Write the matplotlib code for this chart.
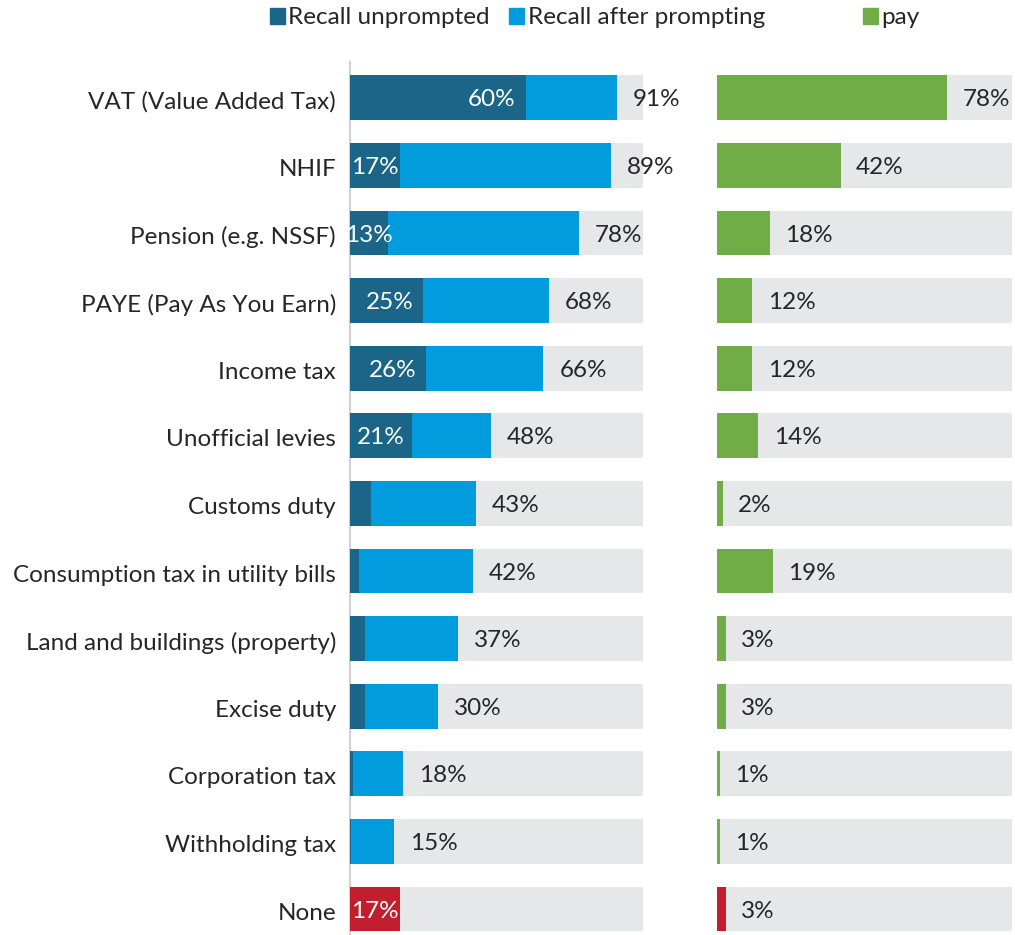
import numpy as np
import matplotlib.pyplot as plt
from matplotlib.patches import Patch

plt.rcParams['font.family'] = ['Lato', 'DejaVu Sans']

categories = ["VAT (Value Added Tax)", "NHIF", "Pension (e.g. NSSF)",
              "PAYE (Pay As You Earn)", "Income tax", "Unofficial levies",
              "Customs duty", "Consumption tax in utility bills",
              "Land and buildings (property)", "Excise duty",
              "Corporation tax", "Withholding tax", "None"]
unprompted = [60, 17, 13, 25, 26, 21, 7, 3, 5, 5, 1, 0.5, 17]
total = [91, 89, 78, 68, 66, 48, 43, 42, 37, 30, 18, 15, 17]
unprompted_labels = ["60%", "17%", "13%", "25%", "26%", "21%", "", "", "", "", "", "", "17%"]
total_labels = ["91%", "89%", "78%", "68%", "66%", "48%", "43%", "42%", "37%",
                "30%", "18%", "15%", ""]
pay = [78, 42, 18, 12, 12, 14, 2, 19, 3, 3, 1, 1, 3]

DARK = "#1B6688"
BLUE = "#009CDD"
GREEN = "#70AD47"
RED = "#C11F2D"
GREY = "#E6E7E9"
TEXT = "#262626"

W, H = 1015, 935
fig = plt.figure(figsize=(W / 100, H / 100), dpi=100)

top, bottom = 64, 935
ax1 = fig.add_axes([350 / W, 1 - bottom / H, 293 / W, (bottom - top) / H])
ax2 = fig.add_axes([717 / W, 1 - bottom / H, 295 / W, (bottom - top) / H])

y = np.arange(len(categories))
n = len(categories)
bh = 0.665
fs = 17.5

is_none = np.array([c == "None" for c in categories])

# left panel
ax1.barh(y, [100] * n, height=bh, color=GREY, zorder=1)
ax1.barh(y[~is_none], np.array(total)[~is_none], height=bh, color=BLUE, zorder=2)
ax1.barh(y[~is_none], np.array(unprompted)[~is_none], height=bh, color=DARK, zorder=3)
ax1.barh(y[is_none], np.array(unprompted)[is_none], height=bh, color=RED, zorder=3)

for i in range(n):
    if unprompted_labels[i]:
        v = unprompted[i]
        xc = max(v / 2, v - 11.6)
        ax1.text(xc, y[i] + 0.03, unprompted_labels[i], ha='center', va='center',
                 color='white', fontsize=fs, zorder=5)
    if total_labels[i]:
        ax1.annotate(total_labels[i], (total[i], y[i] + 0.03), xytext=(11.5, 0),
                     textcoords='offset points', ha='left', va='center',
                     color=TEXT, fontsize=fs, zorder=5, annotation_clip=False)

# right panel
ax2.barh(y, [100] * n, height=bh, color=GREY, zorder=1)
ax2.barh(y, pay, height=bh, color=[RED if c else GREEN for c in is_none], zorder=2)
for i in range(n):
    ax2.annotate("%d%%" % pay[i], (pay[i], y[i] + 0.03), xytext=(11, 0),
                 textcoords='offset points', ha='left', va='center',
                 color=TEXT, fontsize=fs, zorder=5)

span = (bottom - top) / 67.6
for ax in (ax1, ax2):
    ax.set_xlim(0, 100)
    ax.set_ylim(-0.5 + span, -0.5)
    ax.set_xticks([])
    for s in ax.spines.values():
        s.set_visible(False)

ax1.set_yticks(y + 0.03)
ax1.set_yticklabels(categories, fontsize=fs, color=TEXT)
ax1.tick_params(axis='y', length=0, pad=10)
ax1.spines['left'].set_visible(True)
ax1.spines['left'].set_color("#D0D0D0")
ax1.spines['left'].set_linewidth(1.5)
ax1.spines['left'].set_bounds(-0.5 - 0.03, -0.5 + span)
ax2.set_yticks([])

leg1 = fig.legend(handles=[Patch(color=DARK, label="Recall unprompted"),
                           Patch(color=BLUE, label="Recall after prompting")],
                  loc='center left', bbox_to_anchor=(258 / W, 1 - 18 / H), ncol=2,
                  frameon=False, fontsize=fs, handlelength=0.6, handleheight=0.6,
                  handletextpad=0.15, columnspacing=0.8, borderpad=0)
for t in leg1.get_texts():
    t.set_color(TEXT)
leg2 = fig.legend(handles=[Patch(color=GREEN, label="pay")],
                  loc='center left', bbox_to_anchor=(851 / W, 1 - 18 / H),
                  frameon=False, fontsize=fs, handlelength=0.6, handleheight=0.6,
                  handletextpad=0.15, borderpad=0)
for t in leg2.get_texts():
    t.set_color(TEXT)

fig.savefig("out.png", dpi=100)
